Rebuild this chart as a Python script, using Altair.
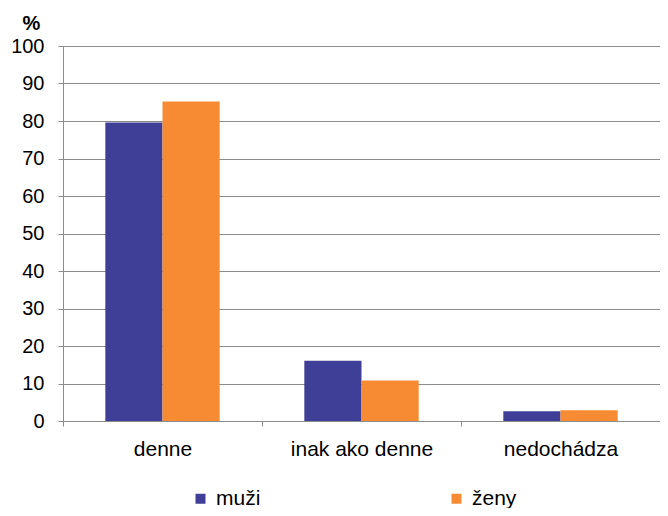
import altair as alt
import pandas as pd

categories = ["denne", "inak ako denne", "nedochádza"]
series = ["muži", "ženy"]
muzi = [79.6, 16.1, 2.6]
zeny = [85.2, 10.8, 2.9]
colors = ["#403F97", "#F68B33"]

rows = []
for i, c in enumerate(categories):
    rows.append({"kat": c, "pohlavie": series[0], "hodnota": muzi[i]})
    rows.append({"kat": c, "pohlavie": series[1], "hodnota": zeny[i]})
df = pd.DataFrame(rows)

FONT = "Liberation Sans"

chart = alt.Chart(df).mark_bar().encode(
    x=alt.X("kat:N", sort=categories, title=None,
            scale=alt.Scale(paddingInner=0, paddingOuter=0),
            axis=alt.Axis(labelAngle=0, tickBand="extent", tickSize=5,
                          labelPadding=12, labelFontSize=21, labelFont=FONT,
                          labelColor="#000000", domainColor="#8c8c8c",
                          tickColor="#8c8c8c", grid=False)),
    xOffset=alt.XOffset("pohlavie:N", sort=series,
                        scale=alt.Scale(paddingInner=0, paddingOuter=0.74)),
    y=alt.Y("hodnota:Q", title="%",
            scale=alt.Scale(domain=[0, 100], nice=False),
            axis=alt.Axis(values=list(range(0, 101, 10)), tickSize=5,
                          labelPadding=14, labelFontSize=20, labelFont=FONT,
                          labelColor="#000000", domainColor="#8c8c8c",
                          tickColor="#8c8c8c", gridColor="#8c8c8c",
                          gridOpacity=1, titleAngle=0, titleX=-32, titleY=-17,
                          titleAlign="center", titleBaseline="alphabetic",
                          titleFontSize=20, titleFont=FONT, titleFontWeight="bold",
                          titleColor="#000000")),
    color=alt.Color("pohlavie:N", sort=series,
                    scale=alt.Scale(domain=series, range=colors),
                    legend=alt.Legend(title=None, orient="none", direction="horizontal",
                                      legendX=127, legendY=442, columns=2, padding=0,
                                      columnPadding=185, symbolType="square",
                                      symbolSize=100, symbolStrokeWidth=0,
                                      symbolOpacity=1, labelFontSize=21,
                                      labelFont=FONT, labelColor="#000000",
                                      labelOffset=5)),
).properties(
    width=597, height=375,
    autosize=alt.AutoSizeParams(type="none"),
    padding={"left": 55, "top": 38, "right": 0, "bottom": 87},
).configure_view(stroke=None)

chart.save("out.html", embed_options={"renderer": "svg", "actions": False})
